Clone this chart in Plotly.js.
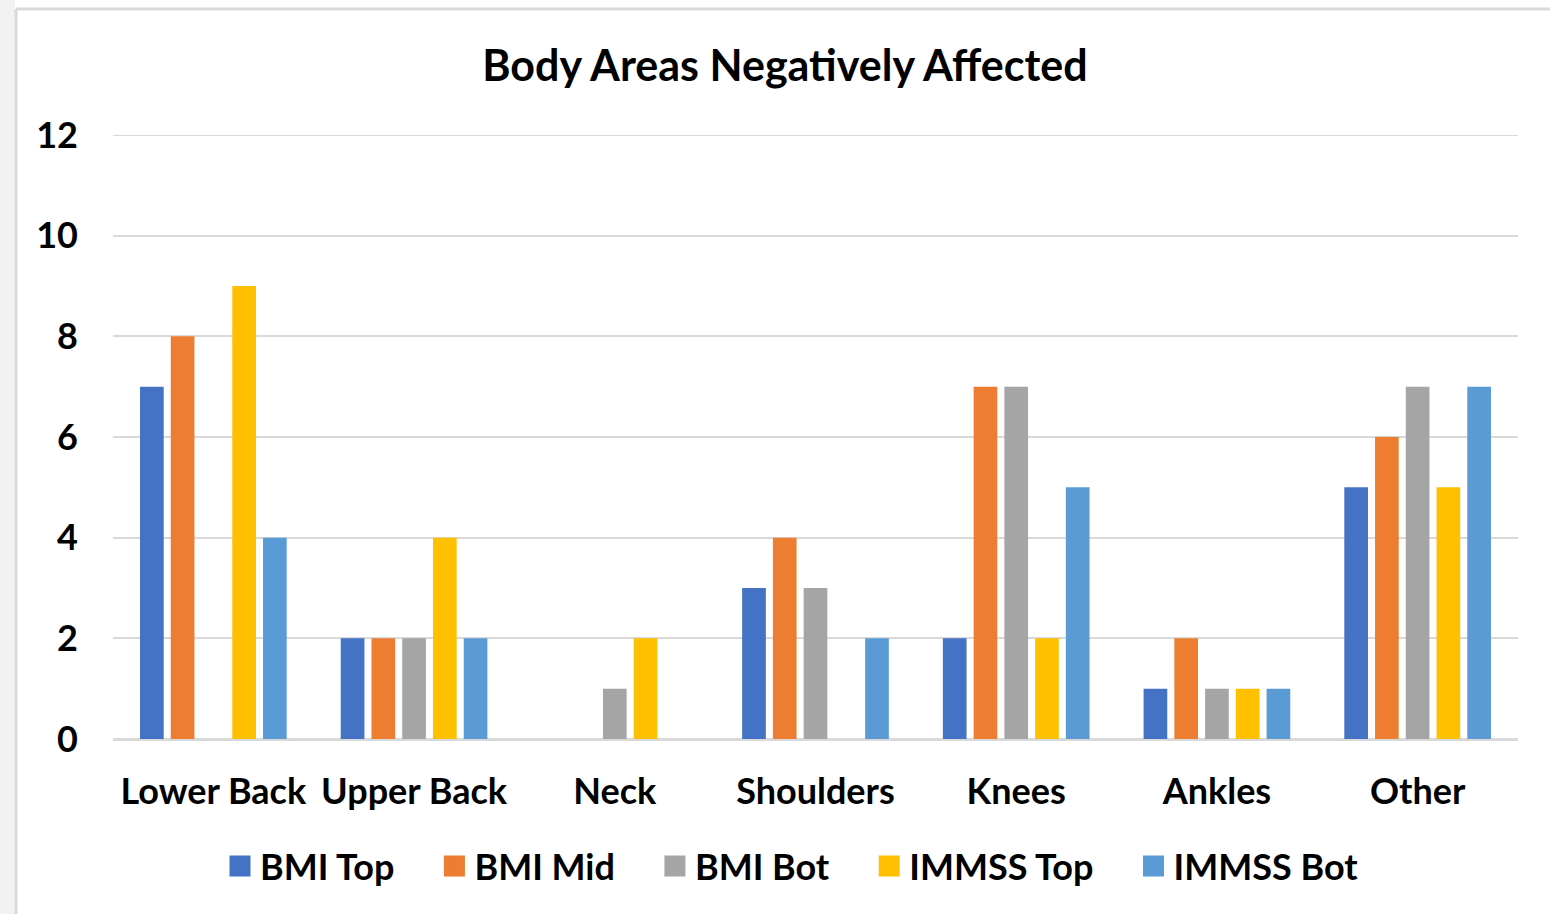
<!DOCTYPE html>
<html>
<head>
<meta charset="utf-8">
<script src="https://cdn.plot.ly/plotly-3.0.1.min.js"></script>
<style>
html,body{margin:0;padding:0;background:#fff;}
#chart{width:1550px;height:914px;}
</style>
</head>
<body>
<div id="chart"></div>
<script>
const categories = ["Lower Back", "Upper Back", "Neck", "Shoulders", "Knees", "Ankles", "Other"];
const seriesNames = ["BMI Top", "BMI Mid", "BMI Bot", "IMMSS Top", "IMMSS Bot"];
const bmiTop   = [7, 2, 0, 3, 2, 1, 5];
const bmiMid   = [8, 2, 0, 4, 7, 2, 6];
const bmiBot   = [0, 2, 1, 3, 7, 1, 7];
const immssTop = [9, 4, 2, 0, 2, 1, 5];
const immssBot = [4, 2, 0, 2, 5, 1, 7];
const yTicks = [0, 2, 4, 6, 8, 10, 12];
const colors = ["#4472C4", "#ED7D31", "#A5A5A5", "#FFC000", "#5B9BD5"];

const seriesValues = [bmiTop, bmiMid, bmiBot, immssTop, immssBot];
const FONT = "Lato, 'Open Sans', sans-serif";
const PAD = "\u00A0\u00A0\u00A0\u00A0";

const traces = seriesValues.map((vals, i) => ({
  type: "bar",
  name: seriesNames[i],
  legendgroup: seriesNames[i],
  showlegend: false,
  x: categories,
  y: vals,
  marker: {color: colors[i]},
  hoverinfo: "x+y+name"
}));
// legend-only entries with larger square swatches
seriesNames.forEach((n, i) => {
  traces.push({
    type: "scatter",
    mode: "markers",
    name: n + (i < seriesNames.length - 1 ? PAD : ""),
    legendgroup: n,
    showlegend: true,
    x: [categories[0]],
    y: [null],
    marker: {symbol: "square", color: colors[i], size: 16, line: {color: colors[i], width: 5}},
    hoverinfo: "skip"
  });
});

// plot area in px: left 113, right 1518, top 135, bottom 739
const L = 113, R = 1518, T = 135, B = 739;
const W = 1550, H = 914;
const pw = R - L, ph = B - T;
const px = x => (x - L) / pw;
const py = y => (B - y) / ph;

const layout = {
  width: W, height: H,
  margin: {l: L, r: W - R, t: T, b: H - B, pad: 0},
  paper_bgcolor: "#ffffff",
  plot_bgcolor: "#ffffff",
  font: {family: FONT, color: "#000000", size: 36},
  title: {
    text: "<b>Body Areas Negatively Affected</b>",
    font: {family: FONT, size: 43, color: "#000000"},
    x: 785 / W, xref: "container", xanchor: "center",
    y: 1 - 66 / H, yref: "container", yanchor: "middle"
  },
  barmode: "group",
  bargap: 0.234,
  bargroupgap: 0.23,
  xaxis: {
    type: "category",
    showgrid: false,
    showline: false,
    zeroline: false,
    ticks: "",
    ticklabelstandoff: 28,
    tickfont: {family: FONT, size: 36, color: "#000000", weight: "bold"},
    fixedrange: true
  },
  yaxis: {
    range: [0, 12],
    tickvals: yTicks,
    ticktext: yTicks.map(String),
    showgrid: true,
    gridcolor: "#d9d9d9",
    gridwidth: 2,
    zeroline: true,
    zerolinecolor: "#d9d9d9",
    zerolinewidth: 3,
    showline: false,
    ticks: "",
    ticklabelstandoff: 34,
    tickfont: {family: FONT, size: 36, color: "#000000", weight: "bold"},
    fixedrange: true
  },
  legend: {
    orientation: "h",
    x: 792 / W, xref: "container", xanchor: "center",
    y: 1 - 866 / H, yref: "container", yanchor: "middle",
    font: {family: FONT, size: 36, color: "#000000", weight: "bold"},
    itemwidth: 30,
    tracegroupgap: 0,
    bgcolor: "rgba(0,0,0,0)"
  },
  shapes: [
    {type: "rect", xref: "paper", yref: "paper", x0: px(0), x1: px(15), y0: py(H), y1: py(0),
     fillcolor: "#f2f2f2", line: {width: 0}, layer: "below"},
    {type: "line", xref: "paper", yref: "paper", x0: px(16), x1: px(16), y0: py(H), y1: py(9),
     line: {color: "#d9d9d9", width: 3}},
    {type: "line", xref: "paper", yref: "paper", x0: px(16), x1: px(W), y0: py(9), y1: py(9),
     line: {color: "#d9d9d9", width: 3}},
    {type: "line", xref: "paper", yref: "y", x0: 0, x1: 1, y0: yTicks[yTicks.length - 1], y1: yTicks[yTicks.length - 1],
     line: {color: "#d9d9d9", width: 2}, layer: "below"}
  ],
  showlegend: true
};

Plotly.newPlot("chart", traces, layout, {displayModeBar: false, responsive: false});
</script>
</body>
</html>
